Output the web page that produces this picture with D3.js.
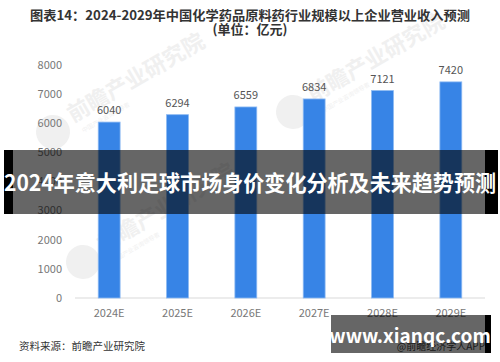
<!DOCTYPE html>
<html>
<head>
<meta charset="utf-8">
<script src="https://cdn.jsdelivr.net/npm/d3@7"></script>
<style>
  body { margin: 0; background: #fff; }
  svg { display: block; font-family: "Noto Sans CJK SC", "Noto Sans", sans-serif; }
</style>
</head>
<body>
<svg id="chart"></svg>
<script>
// years and forecast values (亿元)
const YEARS = ["2024E", "2025E", "2026E", "2027E", "2028E", "2029E"];
const VALUES = [6040, 6294, 6559, 6834, 7121, 7420];
const TICKS = [0, 1000, 2000, 3000, 4000, 5000, 6000, 7000, 8000];

const WIDTH = 500;
const HEIGHT = 362;

const svg = d3.select("#chart")
    .attr("width", WIDTH)
    .attr("height", HEIGHT);

var x = d3.scaleBand()
    .domain(YEARS)
    .range([75, 485])
    .paddingInner(0.68)
    .paddingOuter(0.34);

var y = d3.scaleLinear()
    .domain([0, 8000])
    .range([298, 65]);

// faint watermarks
function watermark(cx, cy) {
    var g = svg.append("g")
        .attr("transform", "translate(" + cx + "," + cy + ") rotate(-30)")
        .attr("fill", "#f0f0f0");
    g.append("circle").attr("cx", -30).attr("cy", 8).attr("r", 17);
    g.append("text")
        .attr("x", -8).attr("y", 10)
        .attr("font-size", 22).attr("font-weight", "bold")
        .text("前瞻产业研究院");
    g.append("text")
        .attr("x", -4).attr("y", 24)
        .attr("font-size", 6)
        .text("中国产业咨询领导者");
}
watermark(75, 110);
watermark(315, 90);
watermark(105, 240);

// y axis labels
svg.append("g")
    .selectAll("text")
    .data(TICKS)
    .enter()
    .append("text")
    .attr("x", 62)
    .attr("y", function(d) { return y(d); })
    .attr("dy", "0.35em")
    .attr("text-anchor", "end")
    .attr("font-size", 11)
    .attr("fill", "#777")
    .text(function(d) { return d; });

// baseline
svg.append("line")
    .attr("x1", 75).attr("x2", 485)
    .attr("y1", y(0)).attr("y2", y(0))
    .attr("stroke", "#d9d9d9");

// bars
svg.append("g")
    .selectAll("rect")
    .data(VALUES)
    .enter()
    .append("rect")
    .attr("x", function(d, i) { return x(YEARS[i]); })
    .attr("y", function(d) { return y(d); })
    .attr("width", x.bandwidth())
    .attr("height", function(d) { return y(0) - y(d); })
    .attr("fill", "#3784e6")
    .attr("stroke", "#8ab8f2")
    .attr("stroke-width", 0.8);

// value labels
svg.append("g")
    .selectAll("text")
    .data(VALUES)
    .enter()
    .append("text")
    .attr("x", function(d, i) { return x(YEARS[i]) + x.bandwidth() / 2; })
    .attr("y", function(d) { return y(d) - 8; })
    .attr("text-anchor", "middle")
    .attr("font-size", 11)
    .attr("fill", "#555")
    .text(function(d) { return d; });

// x labels
svg.append("g")
    .selectAll("text")
    .data(YEARS)
    .enter()
    .append("text")
    .attr("x", function(d) { return x(d) + x.bandwidth() / 2; })
    .attr("y", 313)
    .attr("dy", "0.35em")
    .attr("text-anchor", "middle")
    .attr("font-size", 11)
    .attr("fill", "#777")
    .text(function(d) { return d; });

// title
svg.append("text")
    .attr("x", 250).attr("y", 20)
    .attr("text-anchor", "middle")
    .attr("font-size", 13)
    .attr("font-weight", "bold")
    .attr("fill", "#333")
    .attr("textLength", 440)
    .attr("lengthAdjust", "spacingAndGlyphs")
    .text("图表14：2024-2029年中国化学药品原料药行业规模以上企业营业收入预测");
svg.append("text")
    .attr("x", 250).attr("y", 34)
    .attr("text-anchor", "middle")
    .attr("font-size", 13)
    .attr("font-weight", "bold")
    .attr("fill", "#333")
    .text("(单位：亿元)");

// source
svg.append("text")
    .attr("x", 19).attr("y", 350)
    .attr("font-size", 10.5)
    .attr("fill", "#333")
    .text("资料来源：前瞻产业研究院");

svg.append("text")
    .attr("x", 485).attr("y", 350)
    .attr("text-anchor", "end")
    .attr("font-size", 10)
    .attr("fill", "#444")
    .text("@前瞻经济学人APP");

// overlay band
svg.append("rect")
    .attr("x", 4).attr("y", 150)
    .attr("width", 9).attr("height", 64)
    .attr("fill", "#000");
svg.append("rect")
    .attr("x", 485).attr("y", 150)
    .attr("width", 13).attr("height", 64)
    .attr("fill", "#000");
svg.append("rect")
    .attr("x", 13).attr("y", 150)
    .attr("width", 472).attr("height", 64)
    .attr("fill", "#000")
    .attr("fill-opacity", 0.6);
svg.append("text")
    .attr("x", 250).attr("y", 183)
    .attr("dy", "0.35em")
    .attr("text-anchor", "middle")
    .attr("font-size", 22)
    .attr("font-weight", "bold")
    .attr("fill", "#fff")
    .attr("textLength", 492)
    .attr("lengthAdjust", "spacingAndGlyphs")
    .text("2024年意大利足球市场身价变化分析及未来趋势预测");

// site box
svg.append("rect")
    .attr("x", 485).attr("y", 315)
    .attr("width", 6).attr("height", 38)
    .attr("fill", "#000");
svg.append("rect")
    .attr("x", 331).attr("y", 315)
    .attr("width", 154).attr("height", 38)
    .attr("fill", "#000")
    .attr("fill-opacity", 0.6);
svg.append("text")
    .attr("x", 410).attr("y", 336)
    .attr("dy", "0.35em")
    .attr("text-anchor", "middle")
    .attr("font-size", 19)
    .attr("font-weight", "bold")
    .attr("fill", "#fff")
    .text("www.xianqc.com");
</script>
</body>
</html>
